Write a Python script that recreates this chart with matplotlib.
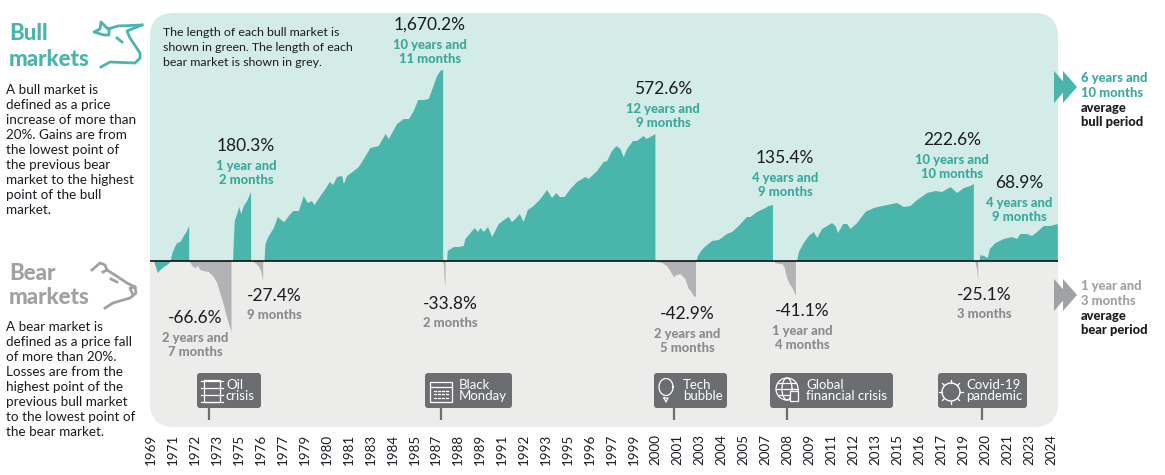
import numpy as np
import matplotlib
matplotlib.use('Agg')
import matplotlib.pyplot as plt
from matplotlib.patches import FancyBboxPatch, Rectangle, Circle, Polygon

plt.rcParams['font.family'] = ['Lato', 'DejaVu Sans']

# x values are months since Dec 1969, y values are height above the zero line
# on the (log style) scale of the original chart
bull_1_x = [2.2, 4.6, 6.6, 9, 11.4, 13.8, 15.3, 16.8, 18.7, 21.1, 23.6, 25.5, 27.5]
bull_1_y = [-2, -12, -9, -6, -4, -1, 8, 13, 18, 19, 25, 29, 35]
bear_1_x = [27.5, 28.9, 30.4, 32.1, 33.8, 35.7, 38.1, 41.8, 45.4, 47.9, 50.3, 52.7, 55.2, 58.3]
bear_1_y = [0, -3, -6, -7, -5, -9, -10, -11, -16, -22, -33, -44, -57, -71]
bull_2_x = [59.5, 60, 60.7, 62, 63.9, 65.4, 67.3, 69.7, 72.6]
bull_2_y = [0, 20, 40, 45, 54, 47, 55, 60, 69]
bear_2_x = [72.6, 74.6, 76.5, 78.5, 79.9, 81.4]
bear_2_y = [0, -1, -3, -6, -10, -20]
bull_3_x = [82.4, 83.1, 85.5, 89.2, 92.1, 94.5, 96.9, 100.1, 103.3, 107.4, 111, 113.9, 116.9, 118.8,
            123.2, 126.8, 130, 132.4, 135.3, 139, 140.2, 142.6, 147.5, 151.1, 154.8, 159.6, 165.7,
            170.6, 173, 179, 183.9, 187.6, 191.2, 194.4, 198.5, 202.1, 205.3, 208.2, 210.6, 212.6]
bull_3_y = [0, 17, 25, 33, 44, 41, 39, 45, 50, 50, 65, 58, 60, 56,
            65, 72, 79, 76, 84, 85, 77, 85, 90, 94, 102, 113, 115,
            127, 122, 137, 142, 142, 150, 161, 161, 162, 174, 185, 190, 191]
bear_3_x = [212.6, 213.2, 213.6, 214.3]
bear_3_y = [-1, -4, -18, -26]
bull_4_x = [215.5, 215.9, 220.3, 224, 227.6, 228.8, 232.5, 235.6, 238, 239.8, 242.2, 245.3, 248.3, 253.1,
            258, 260.4, 262.8, 265.3, 268.4, 271.3, 274.3, 278.6, 283.5, 288.3, 292, 295.1, 297.6, 301,
            305.4, 310.2, 316.3, 318.7, 324.8, 329.6, 332.1, 335.7, 338.9, 341.8, 344.2, 346.7, 351,
            353.9, 358.8, 360.7, 363.7, 367.3]
bull_4_y = [0, 10, 14, 14, 15, 22, 28, 33, 29, 33, 29, 34, 24, 37,
            42, 44, 39, 42, 47, 39, 51, 55, 62, 71, 63, 68, 64, 64,
            72, 79, 84, 82, 90, 99, 100, 110, 115, 112, 104, 112, 120,
            120, 125, 122, 124, 127]
bear_4_x = [367.3, 368.5, 372.2, 375.8, 378.2, 380.7, 383.1, 385.5, 389.2, 391.6, 393.3, 395.2, 396.9]
bear_4_y = [0, -1, -2, -5, -10, -16, -14, -13, -18, -28, -30, -35, -36]
bull_5_x = [397.2, 398.4, 400.1, 402.5, 405, 408.6, 413.5, 419.5, 423.2, 428, 434.1, 436.5, 441.4, 447.5, 449.9, 453]
bull_5_y = [0, 5, 9, 13, 16, 20, 21, 27, 29, 35, 44, 44, 49, 53, 55, 56]
bear_5_x = [453.6, 454.8, 457.3, 459.7, 461.4, 463.3, 465.3, 467.2, 469.7]
bear_5_y = [0, -2, -3, -3, -6, -17, -23, -27, -35]
bull_6_x = [470.6, 471.9, 475.5, 479.1, 482.8, 485.2, 488.9, 492.5, 496.1, 498.6, 500.5, 504.2, 507.1, 509.5,
            514.4, 520.4, 526.5, 532.6, 543.5, 548.4, 553.2, 558.1, 565.4, 571.5, 576.3, 582.4, 587.3,
            592.1, 597, 599.4]
bull_6_y = [0, 9, 18, 25, 29, 23, 32, 35, 38, 35, 28, 37, 37, 32,
            38, 49, 53, 55, 58, 54, 55, 61, 68, 70, 69, 74, 68,
            73, 75, 77]
bear_6_x = [599.4, 600.6, 601.8, 602.6]
bear_6_y = [0, -1, -8, -20]
bull_7_x = [603.5, 604.3, 606.7, 609.6, 611.1, 615.2, 621.3, 627.3, 631, 633.4, 638.3, 641.9, 645.6, 650.4, 655.3, 660.6]
bull_7_y = [0, 6, 5, 3, 12, 18, 22, 24, 22, 27, 27, 25, 29, 35, 35, 37]

bull_series = [(bull_1_x, bull_1_y), (bull_2_x, bull_2_y), (bull_3_x, bull_3_y), (bull_4_x, bull_4_y),
               (bull_5_x, bull_5_y), (bull_6_x, bull_6_y), (bull_7_x, bull_7_y)]
bear_series = [(bear_1_x, bear_1_y), (bear_2_x, bear_2_y), (bear_3_x, bear_3_y), (bear_4_x, bear_4_y),
               (bear_5_x, bear_5_y), (bear_6_x, bear_6_y)]

year_labels = ['1969', '1971', '1972', '1973', '1975', '1976', '1977', '1979', '1980', '1981', '1983', '1984',
               '1985', '1987', '1988', '1989', '1991', '1992', '1993', '1995', '1996', '1997', '1999', '2000',
               '2001', '2003', '2004', '2005', '2007', '2008', '2009', '2011', '2012', '2013', '2015', '2016',
               '2017', '2019', '2020', '2021', '2023', '2024']
months_per_label = 16

bull_labels = [('180.3%', '1 year and\n2 months', 246, 146),
               ('1,670.2%', '10 years and\n11 months', 430, 25),
               ('572.6%', '12 years and\n9 months', 663, 89),
               ('135.4%', '4 years and\n9 months', 785, 158),
               ('222.6%', '10 years and\n10 months', 952, 140),
               ('68.9%', '4 years and\n9 months', 1019, 183)]
bear_labels = [('-66.6%', '2 years and\n7 months', 195, 318),
               ('-27.4%', '9 months', 274, 296),
               ('-33.8%', '2 months', 450, 304),
               ('-42.9%', '2 years and\n5 months', 687, 314),
               ('-41.1%', '1 year and\n4 months', 802, 311),
               ('-25.1%', '3 months', 984, 295)]
events = [('Oil\ncrisis', 197, 261, 209, 226), ('Black\nMonday', 425, 512, 441, 459),
          ('Tech\nbubble', 654, 727, 674, 683), ('Global\nfinancial crisis', 770, 893, 787, 806),
          ('Covid-19\npandemic', 938, 1027, 982, 966)]

teal = '#4ab6ab'
teal_text = '#3aa99d'
teal_light = '#d4ece8'
grey_panel = '#ececea'
grey_area = '#b1b3b4'
grey_text = '#8a8c8e'
grey_head = '#a0a1a3'
dark = '#1b1b22'
pill = '#6b6d70'

fig = plt.figure(figsize=(11.65, 4.75), dpi=100)

# overlay in pixel coordinates for panel, text and icons
bg = fig.add_axes([0, 0, 1, 1], zorder=1)
bg.set_xlim(0, 1165)
bg.set_ylim(475, 0)
bg.axis('off')

zero_px = 260.5
clip_top = Rectangle((0, 0), 1165, zero_px, transform=bg.transData)
clip_bot = Rectangle((0, zero_px), 1165, 475, transform=bg.transData)
top_panel = FancyBboxPatch((150 + 24, 13 + 24), 908 - 48, 414 - 48, boxstyle='round,pad=24,rounding_size=24',
                           fc=teal_light, ec='none')
bot_panel = FancyBboxPatch((150 + 24, 13 + 24), 908 - 48, 414 - 48, boxstyle='round,pad=24,rounding_size=24',
                           fc=grey_panel, ec='none')
bg.add_patch(top_panel)
bg.add_patch(bot_panel)
top_panel.set_clip_path(clip_top)
bot_panel.set_clip_path(clip_bot)

# the chart itself, transparent on top of the panel
ax = fig.add_axes([150 / 1165, 1 - 427 / 475, 908 / 1165, 414 / 475], zorder=2)
ax.patch.set_alpha(0)
px_per_month = 21.95 / months_per_label
ax.set_xlim(-1 / px_per_month, 907 / px_per_month)
ax.set_ylim(-166.5, 247.5)

for xs, ys in bull_series:
    ax.fill_between(xs, ys, 0, color=teal, lw=0)
for xs, ys in bear_series:
    ax.fill_between(xs, ys, 0, color=grey_area, lw=0)
ax.axhline(0, color='black', lw=1.1)

for side in ax.spines.values():
    side.set_visible(False)
ax.set_yticks([])
ax.set_xticks(np.arange(len(year_labels)) * months_per_label)
ax.set_xticklabels(year_labels, rotation=90, fontsize=9.6, color=dark)
ax.tick_params(axis='x', length=0, pad=5)

# bull / bear headings and text
bg.text(9, 34, 'Bull', fontsize=16, fontweight='black', color=teal, va='center')
bg.text(9, 60, 'markets', fontsize=16, fontweight='black', color=teal, va='center')
bg.text(9, 274, 'Bear', fontsize=16, fontweight='black', color=grey_head, va='center')
bg.text(9, 298, 'markets', fontsize=16, fontweight='black', color=grey_head, va='center')

bull_text = ['A bull market is', 'defined as a price', 'increase of more than', '20%. Gains are from',
             'the lowest point of', 'the previous bear', 'market to the highest', 'point of the bull', 'market.']
bear_text = ['A bear market is', 'defined as a price fall', 'of more than 20%.', 'Losses are from the',
             'highest point of the', 'previous bull market', 'to the lowest point of', 'the bear market.']
for i, line in enumerate(bull_text):
    bg.text(6, 90 + i * 15, line, fontsize=9.7, color=dark, va='center')
for i, line in enumerate(bear_text):
    bg.text(6, 327 + i * 15, line, fontsize=9.7, color=dark, va='center')

note = ['The length of each bull market is', 'shown in green. The length of each', 'bear market is shown in grey.']
for i, line in enumerate(note):
    bg.text(163, 33 + i * 14.5, line, fontsize=8.9, color=dark, va='center')

for pct, length, cx, ty in bull_labels:
    bg.text(cx, ty, pct, fontsize=12.5, color=dark, ha='center', va='center')
    bg.text(cx, ty + 27, length, fontsize=9.4, fontweight='black', color=teal_text, ha='center', va='center',
            linespacing=1.25)
for pct, length, cx, ty in bear_labels:
    bg.text(cx, ty, pct, fontsize=12.5, color=dark, ha='center', va='center')
    off = 27 if '\n' in length else 19
    bg.text(cx, ty + off, length, fontsize=9.4, fontweight='black', color=grey_text, ha='center', va='center',
            linespacing=1.25)

# average period arrows on the right
for offset in (0, 9):
    bg.add_patch(Polygon([[1054 + offset, 71], [1068 + offset, 87], [1054 + offset, 103]], fc=teal, ec='none'))
    bg.add_patch(Polygon([[1054 + offset, 279], [1068 + offset, 295], [1054 + offset, 311]], fc=grey_head, ec='none'))
bg.text(1081, 78, '6 years and', fontsize=9.4, fontweight='black', color=teal_text, va='center')
bg.text(1081, 93, '10 months', fontsize=9.4, fontweight='black', color=teal_text, va='center')
bg.text(1081, 108, 'average', fontsize=9.4, fontweight='black', color=dark, va='center')
bg.text(1081, 122, 'bull period', fontsize=9.4, fontweight='black', color=dark, va='center')
bg.text(1081, 286, '1 year and', fontsize=9.4, fontweight='black', color=grey_head, va='center')
bg.text(1081, 301, '3 months', fontsize=9.4, fontweight='black', color=grey_head, va='center')
bg.text(1081, 316, 'average', fontsize=9.4, fontweight='black', color=dark, va='center')
bg.text(1081, 330, 'bear period', fontsize=9.4, fontweight='black', color=dark, va='center')

# event pills
for label, x0, x1, stem, text_x in events:
    bg.add_patch(FancyBboxPatch((x0 + 3, 376), x1 - x0 - 6, 29, boxstyle='round,pad=3,rounding_size=3',
                                fc=pill, ec='none'))
    bg.plot([stem, stem], [408, 420], color=pill, lw=1.6, solid_capstyle='butt')
    bg.text(text_x, 390.5, label, fontsize=9.5, color='white', va='center', linespacing=0.9)

# small white icons in the pills
icon = dict(color='white', lw=0.9)
bg.plot([204, 204, 220, 220, 204], [380, 402, 402, 380, 380], **icon)
bg.plot([201, 223], [388, 388], **icon)
bg.plot([201, 223], [395, 395], **icon)
bg.plot([201, 223], [402, 402], **icon)
bg.plot([201, 223], [381, 381], **icon)
bg.add_patch(Rectangle((430, 382), 22, 20, fc='none', ec='white', lw=0.9))
bg.plot([430, 452], [387, 387], **icon)
for gx in [434, 438, 442, 446]:
    bg.plot([gx, gx + 2], [391, 391], **icon)
    bg.plot([gx, gx + 2], [394, 394], **icon)
    bg.plot([gx, gx + 2], [398, 398], **icon)
theta = np.linspace(0, 2 * np.pi, 60)
bg.plot(666 + 7 * np.cos(theta), 387 + 8.5 * np.sin(theta), **icon)
bg.plot([664, 668, 666, 664], [398, 398, 402, 398], **icon)
bg.add_patch(Circle((787, 389), 11, fc='none', ec='white', lw=0.9))
bg.plot(787 + 5 * np.cos(theta), 389 + 11 * np.sin(theta), **icon)
bg.plot([776, 798], [389, 389], **icon)
bg.plot([778, 796], [383, 383], **icon)
bg.plot([778, 796], [395, 395], **icon)
bg.add_patch(Rectangle((790, 391), 8, 10, fc=pill, ec='white', lw=0.9, zorder=3))
bg.add_patch(Circle((951, 392), 9, fc='none', ec='white', lw=1.0))
for a in np.arange(0, 2 * np.pi, np.pi / 4):
    bg.plot([951 + 9 * np.cos(a), 951 + 12 * np.cos(a)], [392 + 9 * np.sin(a), 392 + 12 * np.sin(a)], **icon)

# bull head outline
head_a = [(142, 25), (118, 26), (108, 29), (101, 22), (100, 29), (94, 32), (104, 35), (109, 35), (109, 29)]
head_b = [(142, 25), (127, 31), (130, 38), (140, 53), (140, 58), (135, 63), (110, 62), (101, 67)]
for head in (head_a, head_b):
    bg.plot([p[0] for p in head], [p[1] for p in head], color=teal, lw=2, solid_joinstyle='round')
bg.plot([117, 122], [38, 42], color=teal, lw=2)

# bear head outline
bear_a = [(92, 270), (100, 263), (105, 265), (107, 270), (118, 277), (127, 283), (135, 287), (136, 293),
          (130, 298), (113, 303), (105, 308)]
bear_b = [(135, 287), (130, 288), (132, 293)]
for head in (bear_a, bear_b):
    bg.plot([p[0] for p in head], [p[1] for p in head], color=grey_head, lw=2, solid_joinstyle='round')
bg.plot([107, 103], [270, 272], color=grey_head, lw=2)
bg.plot([111, 117], [279, 282], color=grey_head, lw=2)

fig.savefig('out.png', dpi=100)
